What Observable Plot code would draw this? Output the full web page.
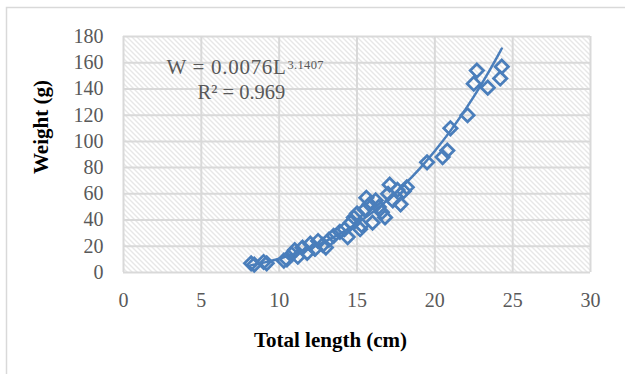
<!DOCTYPE html>
<html><head><meta charset="utf-8">
<script src="https://cdn.jsdelivr.net/npm/d3@7"></script>
<script src="https://cdn.jsdelivr.net/npm/@observablehq/plot@0.6"></script>
<style>body{margin:0;background:#fff}</style>
</head><body><div id="chart"></div>
<script>
const lengthCm = [8.2, 8.4, 9.0, 9.2, 10.3, 10.5, 10.8, 11.0, 11.2, 11.5, 11.8, 12.0, 12.3, 12.5, 12.8, 13.0, 13.2, 13.5, 13.9, 14.2, 14.4, 14.6, 14.8, 15.0, 15.2, 15.3, 15.5, 15.6, 15.8, 16.0, 16.2, 16.4, 16.6, 16.8, 17.0, 17.1, 17.3, 17.6, 17.8, 18.0, 18.2, 19.5, 20.5, 20.8, 21.0, 22.1, 22.5, 22.7, 23.4, 24.2, 24.3];
const weightG = [7, 6, 8, 7, 9, 10, 14, 17, 12, 19, 15, 22, 18, 24, 21, 19, 25, 28, 31, 33, 27, 38, 42, 45, 33, 36, 48, 57, 52, 38, 55, 50, 46, 42, 60, 67, 55, 63, 52, 62, 65, 84, 88, 93, 110, 120, 144, 154, 141, 148, 157];
const xTicks = [0, 5, 10, 15, 20, 25, 30];
const yTicks = [0, 20, 40, 60, 80, 100, 120, 140, 160, 180];
const trendA = 0.0076, trendB = 3.1407;
const trendLengths = [8.2, 9, 10, 11, 12, 13, 14, 15, 16, 17, 18, 19, 20, 21, 22, 23, 24, 24.3];
const eqMain = "W = 0.0076L";
const eqExp = "3.1407";
const r2Label = "R² = 0.969";
const xTitle = "Total length (cm)";
const yTitle = "Weight (g)";

const points = lengthCm.map((L, i) => ({L, W: weightG[i]}));
const trend = trendLengths.map(L => ({L, W: trendA * Math.pow(L, trendB)}));
const blue = "#4a7ebb";
const grid = "#d9d9d9";
const serif = "'Liberation Serif', 'Times New Roman', serif";

const chart = Plot.plot({
  width: 625, height: 374,
  marginLeft: 123, marginRight: 35, marginTop: 36, marginBottom: 102,
  x: {domain: [0, 30], label: null},
  y: {domain: [0, 180], label: null},
  style: {fontFamily: serif, background: "white", color: "#595959"},
  marks: [
    Plot.frame({fill: "url(#hatch)", stroke: null}),
    Plot.gridX(xTicks, {stroke: grid, strokeOpacity: 1, strokeWidth: 2}),
    Plot.gridY(yTicks, {stroke: grid, strokeOpacity: 1, strokeWidth: 2}),
    Plot.axisX(xTicks, {tickSize: 0, tickPadding: 20, fontSize: 20, fontFamily: serif, fill: "#595959", label: null}),
    Plot.axisY(yTicks, {tickSize: 0, tickPadding: 20, fontSize: 20, fontFamily: serif, fill: "#595959", label: null}),
    Plot.line(trend, {x: "L", y: "W", stroke: blue, strokeWidth: 2.5, curve: "monotone-x"}),
    Plot.dot(points, {x: "L", y: "W", symbol: "diamond2", r: 6, stroke: blue, strokeWidth: 2.75, fill: "none"}),
    Plot.text([eqMain], {frameAnchor: "top-left", dx: 43, dy: 22.5, textAnchor: "start", fontSize: 21, fontFamily: serif, fill: "#595959"}),
    Plot.text([r2Label], {frameAnchor: "top-left", dx: 74, dy: 47.5, textAnchor: "start", fontSize: 20.5, fontFamily: serif, fill: "#595959"}),
    Plot.text([xTitle], {frameAnchor: "bottom", dx: -26.5, dy: 74, fontSize: 21, fontFamily: serif, fontWeight: "bold", fill: "black"}),
    Plot.text([yTitle], {frameAnchor: "left", dx: -82.5, dy: 19.5, rotate: -90, fontSize: 21, fontFamily: serif, fontWeight: "bold", fill: "black"})
  ]
});

const ns = "http://www.w3.org/2000/svg";
const defs = document.createElementNS(ns, "defs");
defs.innerHTML = `<pattern id="hatch" patternUnits="userSpaceOnUse" width="5" height="5">
  <rect width="5" height="5" fill="white"/>
  <path d="M0,0 L5,5 M-1,4 L1,6 M4,-1 L6,1" stroke="#cfcfcf" stroke-width="1"/>
</pattern>`;
chart.insertBefore(defs, chart.firstChild);
// superscript exponent appended to the equation text
for (const t of chart.querySelectorAll("text")) {
  if (t.textContent === eqMain) {
    t.setAttribute("letter-spacing", "0.7");
    const sup = document.createElementNS(ns, "tspan");
    sup.setAttribute("dy", "-0.42em");
    sup.setAttribute("font-size", "12.5");
    sup.setAttribute("letter-spacing", "0.3");
    sup.setAttribute("dx", "1");
    sup.textContent = eqExp;
    t.appendChild(sup);
  }
}
const border = document.createElementNS(ns, "rect");
border.setAttribute("x", 6.5); border.setAttribute("y", 7.5);
border.setAttribute("width", 700); border.setAttribute("height", 500);
border.setAttribute("fill", "none"); border.setAttribute("stroke", grid); border.setAttribute("stroke-width", 1.5);
chart.appendChild(border);
document.getElementById("chart").appendChild(chart);
</script>
</body></html>
